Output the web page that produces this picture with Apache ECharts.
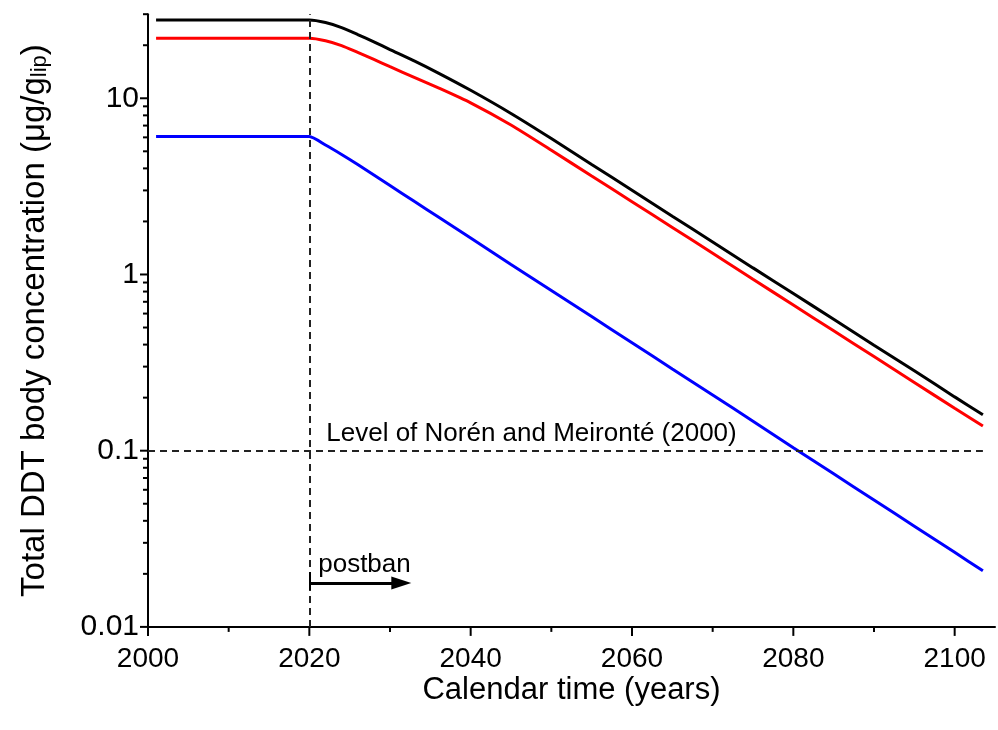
<!DOCTYPE html>
<html>
<head>
<meta charset="utf-8">
<script src="https://cdn.jsdelivr.net/npm/echarts@6/dist/echarts.min.js"></script>
<style>
html,body{margin:0;padding:0;background:#fff;}
#chart{width:998px;height:730px;}
</style>
</head>
<body>
<div id="chart"></div>
<script>
// ---- data ----
const years = [2001, 2020, 2022, 2024, 2026, 2028, 2030, 2033, 2036, 2040, 2045, 2050, 2055, 2060, 2065, 2070, 2075, 2080, 2085, 2090, 2095, 2100, 2103.5];
const blackSeries = [27.8, 27.8, 26.9, 25.2, 23.0, 20.9, 18.9, 16.3, 13.9, 11.1, 8.20, 5.91, 4.21, 3.01, 2.14, 1.53, 1.09, 0.780, 0.557, 0.397, 0.284, 0.202, 0.160];
const redSeries   = [21.9, 21.9, 21.2, 19.9, 18.2, 16.6, 15.1, 13.15, 11.45, 9.42, 7.05, 5.07, 3.62, 2.59, 1.85, 1.32, 0.940, 0.671, 0.479, 0.342, 0.244, 0.174, 0.138];
const blueSeries  = [6.06, 6.06, 5.43, 4.80, 4.21, 3.67, 3.20, 2.60, 2.12, 1.61, 1.14, 0.812, 0.577, 0.410, 0.291, 0.207, 0.147, 0.104, 0.0739, 0.0525, 0.0373, 0.0265, 0.0208];

const xMajorTicks = [2000, 2020, 2040, 2060, 2080, 2100];
const xMinorTicks = [2010, 2030, 2050, 2070, 2090];
const yMajorTicks = [0.01, 0.1, 1, 10];
const yMinorTicks = [0.02,0.03,0.04,0.05,0.06,0.07,0.08,0.09,0.2,0.3,0.4,0.5,0.6,0.7,0.8,0.9,2,3,4,5,6,7,8,9,20,30];

const banYear = 2020;
const referenceLevel = 0.1;
const lineEndYear = 2103.5;
const arrowEndYear = 2031.4;
const arrowLevel = 0.01774;
const arrowBar = [0.0162, 0.0205];
const annotations = [
  {name: 'Level of Norén and Meironté (2000)', value: [2022.1, 0.124]},
  {name: 'postban', value: [2021.1, 0.0226]}
];

// ---- chart ----
const chart = echarts.init(document.getElementById('chart'), null, {renderer: 'canvas'});
const FONT = 'Liberation Sans, Arial, sans-serif';
const pair = arr => years.map((y, i) => [y, arr[i]]);
const isPow10 = v => Math.abs(Math.log10(v) - Math.round(Math.log10(v))) < 1e-6;

function tickSeries(data, horizontal) {
  return {
    type: 'custom',
    coordinateSystem: 'cartesian2d',
    clip: false,
    silent: true,
    z: 5,
    data: data,
    renderItem: function (params, api) {
      const p = api.coord([api.value(0), api.value(1)]);
      const len = api.value(2);
      const shape = horizontal
        ? {x1: p[0] - len, y1: p[1], x2: p[0], y2: p[1]}
        : {x1: p[0], y1: p[1], x2: p[0], y2: p[1] + len};
      return {type: 'line', shape: shape, style: {stroke: '#000', lineWidth: 2}};
    }
  };
}

const yTickData = yMajorTicks.map(v => [2000, v, 8]).concat(yMinorTicks.map(v => [2000, v, 5]));
const xTickData = xMajorTicks.map(v => [v, 0.01, 9]).concat(xMinorTicks.map(v => [v, 0.01, 5]));

const lineSeries = (arr, color) => ({
  type: 'line', data: pair(arr), showSymbol: false, smooth: 0.2, z: 3,
  lineStyle: {color: color, width: 3}
});

const option = {
  animation: false,
  backgroundColor: '#fff',
  grid: {left: 148, top: 14.2, width: 851.5, height: 612.7, containLabel: false},
  xAxis: {
    type: 'value', min: 2000, max: 2105, interval: 20,
    axisLine: {lineStyle: {color: '#000', width: 2}},
    axisTick: {show: false},
    splitLine: {show: false},
    axisLabel: {
      color: '#000', fontFamily: FONT, fontSize: 28, margin: 18,
      formatter: v => (v % 20 === 0 && v <= 2100) ? String(v) : ''
    },
    name: 'Calendar time (years)', nameLocation: 'middle', nameGap: 48, nameMoveOverlap: false,
    nameTextStyle: {color: '#000', fontFamily: FONT, fontSize: 31}
  },
  yAxis: {
    type: 'log', logBase: 10, min: 0.01, max: 30,
    axisLine: {lineStyle: {color: '#000', width: 2}},
    axisTick: {show: false},
    splitLine: {show: false},
    axisLabel: {
      color: '#000', fontFamily: FONT, fontSize: 30, margin: 9,
      formatter: v => isPow10(v) ? String(+v.toPrecision(3)) : ''
    },
    name: '{a|Total DDT body concentration (μg/g}{s|lip}{a|)}',
    nameLocation: 'middle', nameGap: 97, nameMoveOverlap: false,
    nameTextStyle: {
      color: '#000', fontFamily: FONT,
      rich: {
        a: {fontFamily: FONT, fontSize: 33, color: '#000', lineHeight: 38, verticalAlign: 'bottom'},
        s: {fontFamily: FONT, fontSize: 22, color: '#000', lineHeight: 12, verticalAlign: 'bottom'}
      }
    }
  },
  series: [
    lineSeries(blackSeries, '#000000'),
    lineSeries(redSeries, '#ff0000'),
    lineSeries(blueSeries, '#0000ff'),
    {
      type: 'line', data: [], z: 2,
      markLine: {
        silent: true, animation: false, symbol: ['none', 'none'], label: {show: false},
        lineStyle: {color: '#222', type: [7, 5], width: 2},
        data: [
          [{coord: [banYear, 0.01]}, {coord: [banYear, 30]}],
          [{coord: [2000, referenceLevel]}, {coord: [lineEndYear, referenceLevel]}]
        ]
      }
    },
    {
      type: 'line', data: [], z: 4,
      markLine: {
        silent: true, animation: false, label: {show: false},
        symbol: ['none', 'none'],
        lineStyle: {color: '#000', type: 'solid', width: 3},
        data: [
          [{coord: [banYear, arrowLevel], symbol: 'none'}, {coord: [arrowEndYear, arrowLevel], symbol: 'triangle', symbolSize: [13, 20]}],
          [{coord: [banYear, arrowBar[0]], symbol: 'none', lineStyle: {width: 2}}, {coord: [banYear, arrowBar[1]], symbol: 'none'}]
        ]
      }
    },
    {
      type: 'scatter', data: annotations, symbolSize: 0, z: 6, silent: true,
      itemStyle: {opacity: 1},
      label: {show: true, position: 'right', distance: 0, formatter: '{b}',
              color: '#000', fontFamily: FONT, fontSize: 26}
    },
    tickSeries(yTickData, true),
    tickSeries(xTickData, false)
  ]
};
chart.setOption(option);
</script>
</body>
</html>
